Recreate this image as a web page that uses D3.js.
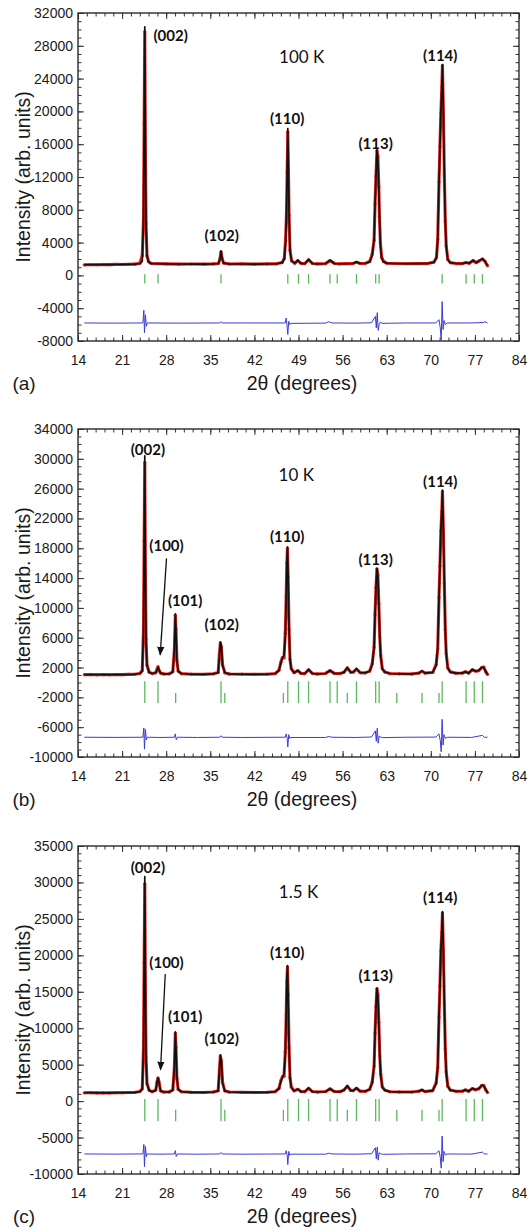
<!DOCTYPE html>
<html><head><meta charset="utf-8">
<script src="https://cdn.jsdelivr.net/npm/d3@7"></script>
<style>body{margin:0;background:#fff}svg{display:block}</style>
</head><body><svg id="chart" width="530" height="1229"></svg>
<script>
// ---------------- DATA ----------------
const xMajorTicks = [14, 21, 28, 35, 42, 49, 56, 63, 70, 77, 84];
const panelLetters = ["(a)", "(b)", "(c)"];
const temperatures = ["100 K", "10 K", "1.5 K"];
const yTicksA = [32000, 28000, 24000, 20000, 16000, 12000, 8000, 4000, 0, -4000, -8000];
const yTicksB = [34000, 30000, 26000, 22000, 18000, 14000, 10000, 6000, 2000, -2000, -6000, -10000];
const yTicksC = [35000, 30000, 25000, 20000, 15000, 10000, 5000, 0, -5000, -10000];
const yDomainA = [-8000, 32000];
const yDomainB = [-10000, 34000];
const yDomainC = [-10000, 35000];

// 2θ grid, panel (a)
const twoThetaA = [
  15, 16, 17, 18, 19, 20, 21, 22, 23, 23.8,
  24.2, 24.4, 24.5, 24.6, 24.7, 24.8, 24.95, 25.2, 25.6, 26.7,
  28, 30, 32, 34, 35.5, 36.3, 36.55, 36.7, 36.85, 37.1,
  38, 40, 42, 44, 45.5, 46.4, 46.75, 46.95, 47.1, 47.2,
  47.3, 47.4, 47.5, 47.65, 47.9, 48.4, 48.9, 49.4, 50.0, 50.6,
  51.2, 52, 53.3, 54.0, 54.7, 55.5, 56.5, 57.6, 58.2, 58.8,
  59.6, 60.3, 60.7, 61.0, 61.15, 61.3, 61.45, 61.6, 61.75, 61.85,
  62.0, 62.2, 62.5, 63, 64, 66, 68, 69.5, 70.5, 70.9,
  71.1, 71.3, 71.45, 71.6, 71.75, 71.85, 72.0, 72.15, 72.3, 72.45,
  72.7, 73.1, 74, 75, 75.6, 76.1, 76.7, 77.2, 77.7, 78.2,
  78.6, 79.0];
const calcA = [
  1300, 1300, 1310, 1320, 1320, 1330, 1340, 1350, 1380, 1450,
  1700, 7000, 18500, 30300, 15200, 6300, 2400, 1600, 1450, 1430,
  1400, 1390, 1380, 1380, 1400, 1450, 2000, 3000, 2100, 1500,
  1400, 1390, 1380, 1390, 1420, 1550, 2000, 4100, 7800, 12800,
  17900, 13100, 7300, 3000, 1750, 1500, 1850, 1450, 1450, 1950,
  1450, 1400, 1450, 1850, 1450, 1420, 1420, 1450, 1650, 1450,
  1480, 1650, 2400, 4400, 8800, 12200, 15300, 14200, 10600, 7300,
  3800, 2100, 1650, 1500, 1450, 1430, 1430, 1450, 1600, 2100,
  4400, 11400, 15700, 19800, 23000, 25700, 19800, 12300, 6600, 3500,
  1900, 1550, 1450, 1430, 1550, 1480, 1850, 1550, 1800, 2050,
  1750, 1150];
const obsA = [
  1280, 1320, 1300, 1330, 1310, 1340, 1330, 1360, 1370, 1470,
  2400, 7000, 18500, 29700, 15200, 6300, 2400, 1700, 1460, 1420,
  1410, 1380, 1390, 1370, 1410, 1460, 2050, 2850, 2150, 1520,
  1390, 1400, 1370, 1400, 1410, 1570, 2100, 4300, 7700, 12600,
  17500, 13000, 7300, 3100, 1800, 1480, 1800, 1470, 1440, 1900,
  1460, 1410, 1440, 1800, 1460, 1410, 1430, 1440, 1600, 1460,
  1470, 1700, 2600, 4300, 8700, 12100, 15200, 14500, 10800, 7200,
  3900, 2200, 1700, 1490, 1460, 1420, 1440, 1440, 1620, 2200,
  4400, 11400, 15700, 19800, 23000, 25600, 19700, 12300, 6600, 3600,
  1950, 1560, 1440, 1440, 1560, 1470, 1800, 1560, 1780, 2000,
  1700, 1180];

// 2θ grid, panels (b) and (c)
const twoThetaLowT = [
  15, 16, 17, 18, 19, 20, 21, 22, 23, 23.8,
  24.2, 24.4, 24.5, 24.6, 24.7, 24.8, 24.95, 25.3, 25.8, 26.35,
  26.55, 26.7, 26.85, 27.1, 27.6, 28.5, 29.05, 29.3, 29.45, 29.55,
  29.7, 29.9, 30.4, 32, 34, 35.5, 36.25, 36.45, 36.6, 36.75,
  36.95, 37.3, 38, 40, 42, 44, 45.3, 45.9, 46.2, 46.45,
  46.7, 46.9, 47.05, 47.15, 47.25, 47.35, 47.5, 47.65, 47.85, 48.3,
  48.9, 49.4, 50.0, 50.6, 51.2, 52, 53.3, 54.0, 54.7, 55.6,
  56.2, 56.75, 57.3, 57.7, 58.2, 58.8, 59.6, 60.3, 60.7, 61.0,
  61.15, 61.3, 61.45, 61.6, 61.75, 61.9, 62.05, 62.3, 62.7, 63.5,
  65, 67, 68.1, 68.6, 69.1, 70.3, 70.85, 71.1, 71.3, 71.45,
  71.6, 71.75, 71.85, 72.0, 72.15, 72.3, 72.45, 72.7, 73.1, 74,
  75, 75.5, 76.0, 76.6, 77.1, 77.6, 78.1, 78.4, 78.7, 79.0];
const calcB = [
  1050, 1050, 1040, 1040, 1040, 1050, 1060, 1070, 1100, 1200,
  1500, 7200, 19000, 30400, 14600, 5800, 2300, 1350, 1200, 1300,
  1700, 2050, 1700, 1250, 1150, 1150, 1400, 4500, 9200, 7000,
  3000, 1500, 1200, 1100, 1100, 1150, 1300, 3700, 5400, 4900,
  2300, 1300, 1150, 1100, 1100, 1100, 1200, 1600, 2600, 3300,
  3600, 6000, 11600, 16000, 18200, 14000, 7000, 3200, 1800, 1300,
  1600, 1200, 1200, 1750, 1200, 1150, 1200, 1600, 1200, 1200,
  1350, 2000, 1350, 1400, 1850, 1300, 1300, 1500, 2400, 4800,
  9000, 12800, 15300, 14200, 10400, 6200, 3500, 1800, 1400, 1200,
  1150, 1150, 1250, 1550, 1250, 1350, 2300, 4600, 11500, 15500,
  20300, 23200, 25800, 20200, 13300, 7000, 3800, 1900, 1400, 1250,
  1250, 1450, 1250, 1750, 1500, 1600, 2050, 2000, 1500, 1050];
const obsB = [
  1040, 1060, 1030, 1050, 1030, 1060, 1050, 1080, 1090, 1210,
  1600, 7200, 19000, 29500, 14600, 5800, 2300, 1380, 1190, 1310,
  1750, 2100, 1650, 1260, 1140, 1160, 1450, 4400, 9000, 7100,
  2900, 1520, 1190, 1110, 1090, 1160, 1320, 3800, 5300, 4700,
  2350, 1310, 1140, 1110, 1090, 1110, 1190, 1650, 2700, 3350,
  3300, 6600, 11600, 16000, 18000, 14200, 7100, 3100, 1850, 1310,
  1580, 1210, 1190, 1700, 1210, 1140, 1210, 1580, 1210, 1190,
  1370, 1950, 1360, 1390, 1800, 1310, 1290, 1520, 2500, 4700,
  9100, 12700, 15200, 14400, 10600, 6100, 3600, 1850, 1410, 1190,
  1160, 1140, 1260, 1500, 1260, 1340, 2400, 4500, 11400, 15600,
  20300, 23000, 25600, 20300, 13300, 7100, 3900, 1950, 1420, 1240,
  1260, 1430, 1260, 1700, 1520, 1580, 2000, 2050, 1480, 1080];
const calcC = [
  1150, 1150, 1140, 1140, 1140, 1150, 1160, 1170, 1200, 1300,
  1600, 7300, 19000, 30800, 15000, 6000, 2400, 1450, 1300, 1500,
  2600, 3200, 2600, 1400, 1250, 1250, 1500, 4700, 9500, 7300,
  3200, 1600, 1300, 1200, 1200, 1250, 1400, 4200, 6300, 5600,
  2500, 1400, 1250, 1200, 1200, 1200, 1300, 1700, 2700, 3300,
  3700, 6200, 11800, 16500, 18600, 14400, 7200, 3300, 1900, 1400,
  1650, 1300, 1300, 1800, 1300, 1250, 1300, 1700, 1300, 1300,
  1500, 2100, 1450, 1450, 1800, 1350, 1350, 1600, 2500, 4900,
  9200, 13000, 15500, 14400, 10600, 6300, 3600, 1900, 1500, 1300,
  1250, 1250, 1350, 1550, 1300, 1450, 2400, 4700, 11600, 15700,
  20600, 23400, 26000, 20400, 13400, 7100, 3900, 2000, 1500, 1350,
  1350, 1550, 1350, 1750, 1550, 1700, 2200, 2100, 1600, 1150];
const obsC = [
  1140, 1160, 1130, 1150, 1130, 1160, 1150, 1180, 1190, 1310,
  1700, 7300, 19000, 29800, 15000, 6000, 2400, 1480, 1290, 1520,
  2650, 3150, 2650, 1410, 1240, 1260, 1550, 4600, 9300, 7400,
  3100, 1620, 1290, 1210, 1190, 1260, 1420, 4300, 6200, 5500,
  2550, 1410, 1240, 1210, 1190, 1210, 1290, 1750, 2800, 3350,
  3400, 6700, 11800, 16400, 18400, 14600, 7300, 3200, 1950, 1410,
  1630, 1310, 1290, 1760, 1310, 1240, 1310, 1680, 1310, 1290,
  1520, 2050, 1460, 1440, 1760, 1360, 1340, 1620, 2600, 4800,
  9300, 12900, 15400, 14600, 10800, 6200, 3700, 1950, 1510, 1290,
  1260, 1240, 1360, 1520, 1310, 1440, 2500, 4600, 11500, 15800,
  20600, 23200, 25800, 20500, 13400, 7200, 4000, 2050, 1520, 1340,
  1360, 1530, 1360, 1720, 1570, 1680, 2150, 2150, 1580, 1180];

// difference curves (obs - calc, offset)
const diffThetaA = [15, 20, 24.3, 24.45, 24.55, 24.7, 24.85, 25.0, 30, 36.5,
  36.7, 36.9, 40, 46.9, 47.05, 47.2, 47.3, 47.45, 47.6, 47.8,
  53.3, 53.8, 54.3, 58, 60.6, 61.2, 61.35, 61.5, 61.65, 61.8,
  62.0, 62.3, 66, 70.8, 71.3, 71.5, 71.65, 71.8, 71.95, 72.1,
  72.3, 72.6, 76.5, 78.3, 78.6, 79];
const diffA = [-5800, -5820, -5800, -4250, -7000, -4800, -6200, -5800, -5820, -5800,
  -5650, -5800, -5800, -5800, -5200, -6300, -7200, -5600, -6000, -5850,
  -5820, -5650, -5800, -5820, -5780, -5000, -6400, -4550, -6700, -6000,
  -5700, -5850, -5800, -5800, -5400, -6400, -7900, -3200, -6600, -5500,
  -6000, -5800, -5800, -5750, -5650, -5800];
const diffThetaLowT = [15, 20, 24.3, 24.45, 24.55, 24.7, 24.85, 25.0, 27, 29.3,
  29.45, 29.6, 29.8, 33, 36.5, 36.7, 36.9, 40, 46.9, 47.05,
  47.2, 47.3, 47.45, 47.6, 47.8, 53.3, 53.8, 54.3, 58, 60.6,
  61.2, 61.35, 61.5, 61.65, 61.8, 62.0, 62.3, 66, 70.8, 71.3,
  71.5, 71.65, 71.8, 71.95, 72.1, 72.3, 72.6, 76.5, 78.2, 78.5,
  79];
const diffB = [-7350, -7370, -7350, -6100, -8950, -6300, -7700, -7350, -7380, -7350,
  -6900, -7700, -7350, -7380, -7350, -7150, -7350, -7380, -7350, -6900,
  -7500, -8650, -7000, -7500, -7380, -7380, -7250, -7350, -7380, -7320,
  -6500, -7900, -6150, -8150, -7200, -7300, -7400, -7350, -7330, -6900,
  -7800, -9300, -4950, -8400, -7000, -7500, -7350, -7370, -7100, -7350,
  -7350];
const diffC = [-7250, -7270, -7250, -5950, -9000, -6200, -7600, -7250, -7280, -7250,
  -6800, -7600, -7250, -7280, -7250, -7050, -7250, -7280, -7250, -6800,
  -7400, -8700, -6900, -7400, -7280, -7280, -7150, -7250, -7280, -7220,
  -6400, -7900, -6300, -8100, -7100, -7200, -7300, -7250, -7230, -6800,
  -7700, -9200, -4800, -8300, -6900, -7400, -7250, -7270, -7000, -7250,
  -7250];

// Bragg reflection positions
const braggMain = [24.6, 26.7, 36.7, 47.3, 49.0, 50.6, 54.0, 55.15, 58.2, 61.25, 61.8, 71.8, 75.6, 76.9, 78.2];
const braggSecond = [29.5, 37.3, 46.6, 56.75, 64.6, 68.6, 71.3];
// tick extents [top, bottom] in intensity units
const braggMainSpanA = [150, -1000];
const braggMainSpanB = [150, -2750];
const braggSecondSpanB = [-1400, -2750];
const braggMainSpanC = [300, -2750];
const braggSecondSpanC = [-1200, -2750];

// reflection labels: [text, 2θ, intensity]
const labelsA = [["(002)", 28.7, 29300], ["(102)", 36.8, 4900], ["(110)", 47.2, 19150], ["(113)", 61.25, 16200], ["(114)", 71.5, 26850]];
const labelsB = [["(002)", 25.1, 31350], ["(100)", 28.05, 18400], ["(101)", 31.0, 11100], ["(102)", 36.8, 7900], ["(110)", 47.2, 19700], ["(113)", 61.25, 16600], ["(114)", 71.5, 27000]];
const labelsC = [["(002)", 25.1, 32150], ["(100)", 28.05, 19150], ["(101)", 31.0, 11700], ["(102)", 36.8, 8600], ["(110)", 47.2, 20500], ["(113)", 61.25, 17250], ["(114)", 71.5, 27950]];
const tempPos = [[49.5, 26700], [48.65, 27900], [49.0, 28750]];
// arrows [x1, y1, x2, y2] in data units
const arrowB = [28.05, 16650, 27.05, 3700];
const arrowC = [27.85, 17450, 27.1, 4300];

// ---------------- DRAWING ----------------
const svg = d3.select("#chart");
const left = 78, right = 519, plotH = 328;
const tops = [13, 429, 846];

svg.append("defs").append("marker")
  .attr("id", "ah").attr("viewBox", "0 0 10 10").attr("refX", 9).attr("refY", 5)
  .attr("markerWidth", 7).attr("markerHeight", 7).attr("orient", "auto-start-reverse")
  .append("path").attr("d", "M0,1 L10,5 L0,9 Z").attr("fill", "#111");

const panels = [
  {yDom: yDomainA, yTicks: yTicksA, grid: twoThetaA, calc: calcA, obs: obsA, dx: diffThetaA, diff: diffA,
   main: braggMainSpanA, second: null, labels: labelsA, arrow: null},
  {yDom: yDomainB, yTicks: yTicksB, grid: twoThetaLowT, calc: calcB, obs: obsB, dx: diffThetaLowT, diff: diffB,
   main: braggMainSpanB, second: braggSecondSpanB, labels: labelsB, arrow: arrowB},
  {yDom: yDomainC, yTicks: yTicksC, grid: twoThetaLowT, calc: calcC, obs: obsC, dx: diffThetaLowT, diff: diffC,
   main: braggMainSpanC, second: braggSecondSpanC, labels: labelsC, arrow: arrowC}
];

const tickFont = "'Liberation Sans', Arial, sans-serif";
const annFont = "Lato, 'Open Sans', sans-serif";

panels.forEach((p, i) => {
  const top = tops[i], bottom = top + plotH;
  const x = d3.scaleLinear().domain([14, 84]).range([left, right]);
  const y = d3.scaleLinear().domain(p.yDom).range([bottom, top]);
  const g = svg.append("g");

  const xMinor = d3.range(14, 84.001, 1.4);
  const yMinor = d3.range(p.yDom[0], p.yDom[1] + 1, 1000);

  function styleAxis(sel) {
    sel.select(".domain").remove();
    sel.selectAll("line").attr("stroke", "#333").attr("stroke-width", 1);
    sel.selectAll("text").attr("font-family", tickFont).attr("font-size", 14).attr("fill", "#1a1a1a");
  }
  g.append("g").attr("transform", `translate(0,${bottom})`)
    .call(d3.axisBottom(x).tickValues(xMinor).tickSize(-3.5).tickFormat("")).call(styleAxis);
  g.append("g").attr("transform", `translate(0,${bottom})`)
    .call(d3.axisBottom(x).tickValues(xMajorTicks).tickSize(-6).tickPadding(14).tickFormat(d3.format("d"))).call(styleAxis);
  g.append("g").attr("transform", `translate(0,${top})`)
    .call(d3.axisTop(x).tickValues(xMinor).tickSize(-3.5).tickFormat("")).call(styleAxis);
  g.append("g").attr("transform", `translate(0,${top})`)
    .call(d3.axisTop(x).tickValues(xMajorTicks).tickSize(-6).tickFormat("")).call(styleAxis);
  g.append("g").attr("transform", `translate(${left},0)`)
    .call(d3.axisLeft(y).tickValues(yMinor).tickSize(-3.5).tickFormat("")).call(styleAxis);
  g.append("g").attr("transform", `translate(${left},0)`)
    .call(d3.axisLeft(y).tickValues(p.yTicks).tickSize(-6).tickPadding(5).tickFormat(d => String(d))).call(styleAxis);
  g.append("g").attr("transform", `translate(${right},0)`)
    .call(d3.axisRight(y).tickValues(yMinor).tickSize(-3.5).tickFormat("")).call(styleAxis);
  g.append("g").attr("transform", `translate(${right},0)`)
    .call(d3.axisRight(y).tickValues(p.yTicks).tickSize(-6).tickFormat("")).call(styleAxis);

  g.append("rect").attr("x", left).attr("y", top).attr("width", right - left).attr("height", plotH)
    .attr("fill", "none").attr("stroke", "#2a2a2a").attr("stroke-width", 1.4);

  g.selectAll(".bm").data(braggMain).join("line")
    .attr("x1", d => x(d)).attr("x2", d => x(d))
    .attr("y1", y(p.main[0])).attr("y2", y(p.main[1]))
    .attr("stroke", "#5cb85c").attr("stroke-width", 1.3);
  if (p.second) {
    g.selectAll(".bs").data(braggSecond).join("line")
      .attr("x1", d => x(d)).attr("x2", d => x(d))
      .attr("y1", y(p.second[0])).attr("y2", y(p.second[1]))
      .attr("stroke", "#5cb85c").attr("stroke-width", 1.3);
  }

  const diffPts = d3.zip(p.dx, p.diff);
  g.append("path").datum(diffPts)
    .attr("d", d3.line().x(d => x(d[0])).y(d => y(d[1])))
    .attr("fill", "none").attr("stroke", "#3b3bd6").attr("stroke-width", 1);

  const obsPts = d3.zip(p.grid, p.obs);
  g.append("path").datum(obsPts)
    .attr("d", d3.line().x(d => x(d[0])).y(d => y(d[1])))
    .attr("fill", "none").attr("stroke", "#e3231c").attr("stroke-width", 3.1).attr("stroke-linejoin", "round");
  g.selectAll(".obs").data(obsPts).join("circle")
    .attr("cx", d => x(d[0])).attr("cy", d => y(d[1])).attr("r", 1.6).attr("fill", "#e3231c");

  const calcPts = d3.zip(p.grid, p.calc);
  g.append("path").datum(calcPts)
    .attr("d", d3.line().x(d => x(d[0])).y(d => y(d[1])))
    .attr("fill", "none").attr("stroke", "#111").attr("stroke-width", 1.7).attr("stroke-linejoin", "round");

  g.selectAll(".lab").data(p.labels).join("text")
    .attr("x", d => x(d[1])).attr("y", d => y(d[2]))
    .attr("text-anchor", "middle").attr("dominant-baseline", "central")
    .attr("font-family", annFont).attr("font-weight", "bold").attr("font-size", 15).attr("fill", "#111")
    .text(d => d[0]);

  g.append("text").attr("x", x(tempPos[i][0])).attr("y", y(tempPos[i][1]))
    .attr("text-anchor", "middle").attr("dominant-baseline", "central")
    .attr("font-family", annFont).attr("font-size", 17).attr("fill", "#111").text(temperatures[i]);

  if (p.arrow) {
    g.append("line").attr("x1", x(p.arrow[0])).attr("y1", y(p.arrow[1]))
      .attr("x2", x(p.arrow[2])).attr("y2", y(p.arrow[3]))
      .attr("stroke", "#111").attr("stroke-width", 1.3).attr("marker-end", "url(#ah)");
  }

  g.append("text").attr("transform", `translate(23,${top + plotH / 2}) rotate(-90)`)
    .attr("text-anchor", "middle").attr("dominant-baseline", "central")
    .attr("font-family", tickFont).attr("font-size", 19.5).attr("fill", "#1a1a1a")
    .text("Intensity (arb. units)");
  g.append("text").attr("x", 302).attr("y", bottom + 42)
    .attr("text-anchor", "middle").attr("dominant-baseline", "central")
    .attr("font-family", tickFont).attr("font-size", 19.5).attr("fill", "#1a1a1a")
    .text("2θ (degrees)");
  g.append("text").attr("x", 24).attr("y", bottom + 42)
    .attr("text-anchor", "middle").attr("dominant-baseline", "central")
    .attr("font-family", tickFont).attr("font-size", 19).attr("fill", "#1a1a1a")
    .text(panelLetters[i]);
});
</script></body></html>
